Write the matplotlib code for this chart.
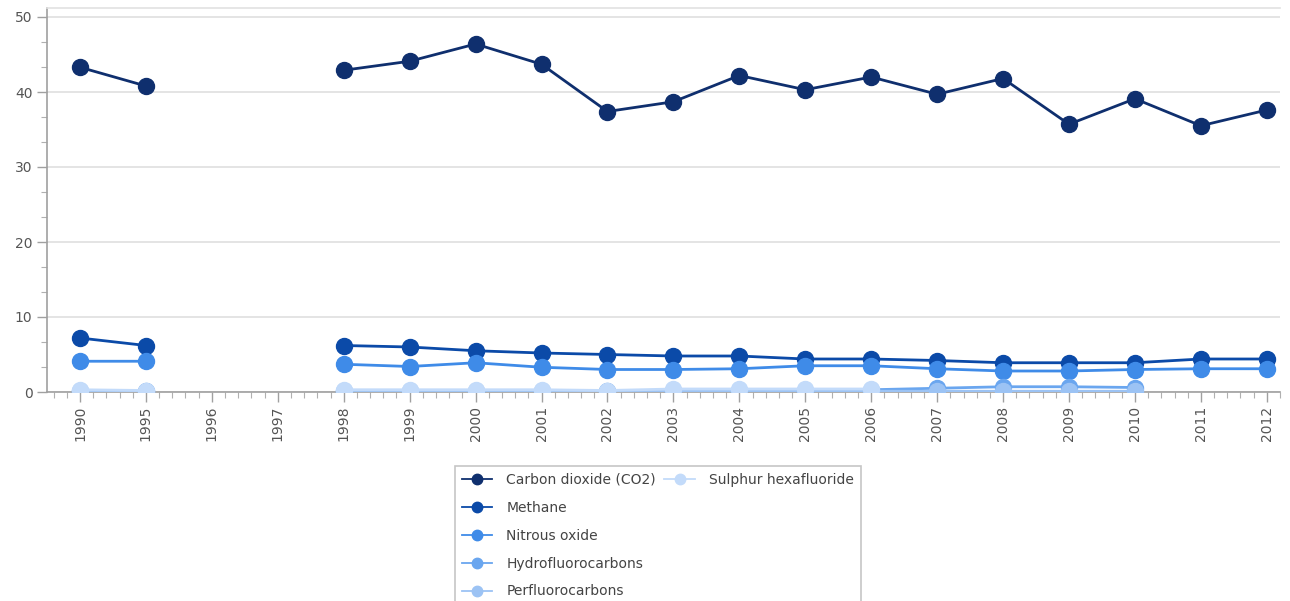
import numpy as np
import matplotlib
matplotlib.use("Agg")
import matplotlib.pyplot as plt
from matplotlib.ticker import MultipleLocator, AutoMinorLocator
from matplotlib.lines import Line2D

years = ["1990", "1995", "1996", "1997", "1998", "1999", "2000", "2001", "2002",
         "2003", "2004", "2005", "2006", "2007", "2008", "2009", "2010", "2011", "2012"]
nan = np.nan
co2 = [43.3, 40.8, nan, nan, 42.9, 44.1, 46.4, 43.7, 37.4, 38.7, 42.2, 40.3, 42.0,
       39.7, 41.8, 35.7, 39.1, 35.5, 37.6]
methane = [7.2, 6.2, nan, nan, 6.2, 6.0, 5.5, 5.2, 5.0, 4.8, 4.8, 4.4, 4.4,
           4.2, 3.9, 3.9, 3.9, 4.4, 4.4]
nitrous = [4.1, 4.1, nan, nan, 3.7, 3.4, 3.9, 3.3, 3.0, 3.0, 3.1, 3.5, 3.5,
           3.1, 2.8, 2.8, 3.0, 3.1, 3.1]
hfc = [0.1, 0.1, nan, nan, 0.1, 0.1, 0.1, 0.1, 0.1, 0.2, 0.2, 0.2, 0.3,
       0.5, 0.7, 0.7, 0.6, nan, nan]
pfc = [0.2, 0.1, nan, nan, 0.1, 0.1, 0.1, 0.1, 0.1, 0.1, 0.1, 0.1, 0.1,
       0.1, 0.1, 0.1, 0.1, nan, nan]
sf6 = [0.3, 0.2, nan, nan, 0.3, 0.3, 0.3, 0.3, 0.2, 0.4, 0.4, 0.4, 0.4,
       nan, nan, nan, nan, nan, nan]

names = ["Carbon dioxide (CO2)", "Methane", "Nitrous oxide",
         "Hydrofluorocarbons", "Perfluorocarbons", "Sulphur hexafluoride"]
series = [co2, methane, nitrous, hfc, pfc, sf6]
colors = ["#0f2f6e", "#0b4aa8", "#3f8be8", "#6aa6ef", "#9cc3f4", "#c3dbfa"]

fig = plt.figure(figsize=(12.9, 6.01), dpi=100)
ax = fig.add_axes([47/1290, 1-392/601, (1280-47)/1290, (392-8)/601])

x = np.arange(len(years))
handles = []
for name, vals, c in zip(names, series, colors):
    ax.plot(x, vals, color=c, lw=2.0, marker="o", ms=11.5, mec=c, mfc=c,
            clip_on=True, zorder=3)
    handles.append(Line2D([], [], color=c, lw=1.3, marker="o", ms=7.5, mec=c, mfc=c))

ax.set_xlim(-0.5, len(years) - 1 + 0.2)
ax.set_ylim(0, 51.2)
ax.set_xticks(x)
ax.set_xticklabels(years, rotation=90)
ax.set_yticks([0, 10, 20, 30, 40, 50])
ax.xaxis.set_minor_locator(MultipleLocator(0.2))
ax.yaxis.set_minor_locator(AutoMinorLocator(3))
ax.grid(axis="y", which="major", color="#e2e2e2", lw=1.3, zorder=0)
ax.set_axisbelow(True)

for side in ["left", "bottom"]:
    ax.spines[side].set_color("#a0a0a0")
    ax.spines[side].set_linewidth(1.2)
ax.spines["top"].set_color("#e2e2e2")
ax.spines["top"].set_linewidth(1.2)
ax.spines["right"].set_visible(False)

ax.tick_params(axis="both", which="major", length=7, width=1, color="#a0a0a0",
               labelcolor="#555555", labelsize=10)
ax.tick_params(axis="both", which="minor", length=4, width=0.8, color="#b0b0b0")
ax.tick_params(axis="x", which="major", pad=3)

blank = Line2D([], [], color="none", lw=0)
leg_handles = handles[:5] + [handles[5], blank, blank, blank, blank]
leg_labels = names[:5] + [names[5], "", "", "", ""]
leg = fig.legend(leg_handles, leg_labels, ncol=2, loc="upper left",
                 bbox_to_anchor=(448/1290, 1-459/601), fontsize=10,
                 frameon=True, fancybox=False, edgecolor="#b8b8b8",
                 labelspacing=1.0, handlelength=2.2, handletextpad=1.0,
                 columnspacing=0.6, borderpad=0.5, labelcolor="#444444")
leg.get_frame().set_linewidth(1.2)

fig.savefig("out.png", dpi=100)
